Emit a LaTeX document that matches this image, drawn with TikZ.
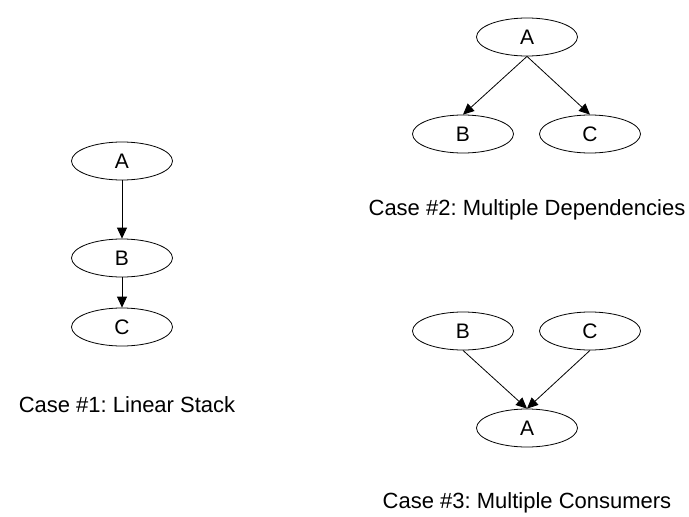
\documentclass[tikz,border=0pt]{standalone}
\usepackage{fontspec}
\setmainfont{Liberation Sans}
\usetikzlibrary{shapes.geometric,arrows.meta}
\tikzset{
  nd/.style={draw, ellipse, line width=0.8pt, minimum width=101pt, minimum height=38pt, inner sep=0pt, font=\fontsize{21}{24}\selectfont},
  lbl/.style={font=\fontsize{22}{26}\selectfont, inner sep=0pt},
  arr/.style={line width=0.8pt, -{Triangle[length=11pt,width=10pt]}}
}
\frenchspacing
\begin{document}
\begin{tikzpicture}[x=1pt,y=-1pt]
\useasboundingbox (0,0) rectangle (689,517);
% Case 1
\node[nd] (a1) at (122,161) {A};
\node[nd] (b1) at (122,258) {B};
\node[nd] (c1) at (122,327) {C};
\node[lbl] (l1) at (127,405) {Case \#1: Linear Stack};
\draw[arr] (a1.south) -- (b1.north);
\draw[arr] (b1.south) -- (c1.north);
% Case 2
\node[nd] (a2) at (527,37) {A};
\node[nd] (b2) at (463,134) {B};
\node[nd] (c2) at (590,134) {C};
\node[lbl] (l2) at (527,210) {Case \#2: Multiple Dependencies};
\draw[arr] (a2.south) -- (b2.north);
\draw[arr] (a2.south) -- (c2.north);
% Case 3
\node[nd] (b3) at (463,331) {B};
\node[nd] (c3) at (590,331) {C};
\node[nd] (a3) at (527,428) {A};
\node[lbl] (l3) at (527,503) {Case \#3: Multiple Consumers};
\draw[arr] (b3.south) -- (a3.north);
\draw[arr] (c3.south) -- (a3.north);
\end{tikzpicture}
\end{document}
